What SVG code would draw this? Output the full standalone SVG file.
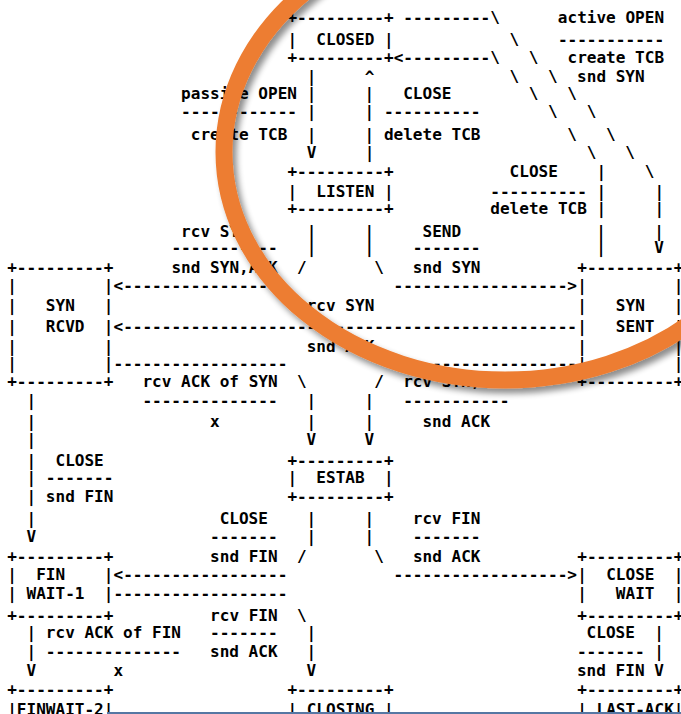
<svg xmlns="http://www.w3.org/2000/svg" width="681" height="714" viewBox="0 0 681 714" xml:space="preserve">
<style>
text{font-family:"DejaVu Sans Mono","Liberation Mono",monospace;font-weight:bold;font-size:16px;fill:#000;white-space:pre}
.ring{fill:none;stroke:#ED7D31;stroke-width:17}
</style>
<defs>
<filter id="sh" filterUnits="userSpaceOnUse" x="-100" y="-150" width="900" height="900">
<feGaussianBlur in="SourceAlpha" stdDeviation="3"/>
<feOffset dx="4" dy="5" result="b"/>
<feComponentTransfer><feFuncA type="linear" slope="0.45"/></feComponentTransfer>
<feMerge><feMergeNode/><feMergeNode in="SourceGraphic"/></feMerge>
</filter>
</defs>
<rect width="681" height="714" fill="#fff"/>
<g transform="translate(7.2,0) scale(1.003,1) translate(-7.2,0)">
<g id="connectors">
<text x="402.15" y="22.7">---------\      active OPEN</text>
<text x="508.12" y="45">\    -----------</text>
<text x="392.52" y="63.3">&lt;---------\   \   create TCB</text>
<text x="305.82" y="81.7">|     ^              \   \  snd SYN</text>
<text x="180.59" y="99.3">passive OPEN |     |   CLOSE        \   \</text>
<text x="180.59" y="117.5">------------ |     | ----------       \   \</text>
<text x="190.23" y="140">create TCB  |     | delete TCB         \   \</text>
<text x="305.82" y="158.3">V     |                      \   \</text>
<text x="508.12" y="177.3">CLOSE    |    \</text>
<text x="488.85" y="196.7">---------- |     |</text>
<text x="488.85" y="214">delete TCB |     |</text>
<text x="180.59" y="236.7">rcv SYN      |     |     SEND              |     |</text>
<text x="170.96" y="253">-----------   |     |    -------            |     V</text>
<text x="170.96" y="273.5">snd SYN,ACK  /       \   snd SYN</text>
<text x="113.16" y="291.3">&lt;-----------------           ------------------&gt;</text>
<text x="305.82" y="310.7">rcv SYN</text>
<text x="113.16" y="332.5">&lt;-----------------------------------------------</text>
<text x="305.82" y="351.7">snd ACK</text>
<text x="113.16" y="369.5">------------------           -------------------</text>
<text x="142.06" y="386.7">rcv ACK of SYN  \       /  rcv SYN,ACK</text>
<text x="26.47" y="406.5">|           --------------   |     |   -----------</text>
<text x="26.47" y="427.3">|                  x         |     |     snd ACK</text>
<text x="26.47" y="445">|                            V     V</text>
<text x="26.47" y="465.7">|  CLOSE</text>
<text x="26.47" y="483.3">| -------</text>
<text x="26.47" y="502.3">| snd FIN</text>
<text x="26.47" y="524.3">|                   CLOSE    |     |    rcv FIN</text>
<text x="26.47" y="542.3">V                  -------   |     |    -------</text>
<text x="209.49" y="561.7">snd FIN  /       \   snd ACK</text>
<text x="113.16" y="580">&lt;-----------------           ------------------&gt;</text>
<text x="113.16" y="599">------------------</text>
<text x="209.49" y="620.7">rcv FIN  \</text>
<text x="26.47" y="638.3">| rcv ACK of FIN   -------   |                            CLOSE  |</text>
<text x="26.47" y="657.3">| --------------   snd ACK   |                           ------- |</text>
<text x="26.47" y="675.7">V        x                   V                           snd FIN V</text>
</g>
<g id="closed">
<text x="286.56" y="22.7">+---------+</text>
<text x="286.56" y="45">|  CLOSED |</text>
<text x="286.56" y="63.3">+---------+</text>
</g>
<g id="listen">
<text x="286.56" y="177.3">+---------+</text>
<text x="286.56" y="196.7">|  LISTEN |</text>
<text x="286.56" y="214">+---------+</text>
</g>
<g id="syn-rcvd">
<text x="7.2" y="273.5">+---------+</text>
<text x="7.2" y="291.3">|         |</text>
<text x="7.2" y="310.7">|   SYN   |</text>
<text x="7.2" y="332.5">|   RCVD  |</text>
<text x="7.2" y="351.7">|         |</text>
<text x="7.2" y="369.5">|         |</text>
<text x="7.2" y="386.7">+---------+</text>
</g>
<g id="syn-sent">
<text x="575.55" y="273.5">+---------+</text>
<text x="575.55" y="291.3">|         |</text>
<text x="575.55" y="310.7">|   SYN   |</text>
<text x="575.55" y="332.5">|   SENT  |</text>
<text x="575.55" y="351.7">|         |</text>
<text x="575.55" y="369.5">|         |</text>
<text x="575.55" y="386.7">+---------+</text>
</g>
<g id="estab">
<text x="286.56" y="465.7">+---------+</text>
<text x="286.56" y="483.3">|  ESTAB  |</text>
<text x="286.56" y="502.3">+---------+</text>
</g>
<g id="fin-wait-1">
<text x="7.2" y="561.7">+---------+</text>
<text x="7.2" y="580">|  FIN    |</text>
<text x="7.2" y="599">| WAIT-1  |</text>
<text x="7.2" y="620.7">+---------+</text>
</g>
<g id="close-wait">
<text x="575.55" y="561.7">+---------+</text>
<text x="575.55" y="580">|  CLOSE  |</text>
<text x="575.55" y="599">|   WAIT  |</text>
<text x="575.55" y="620.7">+---------+</text>
</g>
<g id="fin-wait-2">
<text x="7.2" y="695">+---------+</text>
<text x="7.2" y="715">|FINWAIT-2|</text>
</g>
<g id="closing">
<text x="286.56" y="695">+---------+</text>
<text x="286.56" y="715">| CLOSING |</text>
</g>
<g id="last-ack">
<text x="575.55" y="695">+---------+</text>
<text x="575.55" y="715">| LAST-ACK|</text>
</g>
</g>
<g id="overlay">
<ellipse class="ring" cx="505" cy="152" rx="281" ry="228" filter="url(#sh)"/>
<rect x="107" y="712" width="574" height="2" fill="#5677A3"/>
</g>
</svg>
